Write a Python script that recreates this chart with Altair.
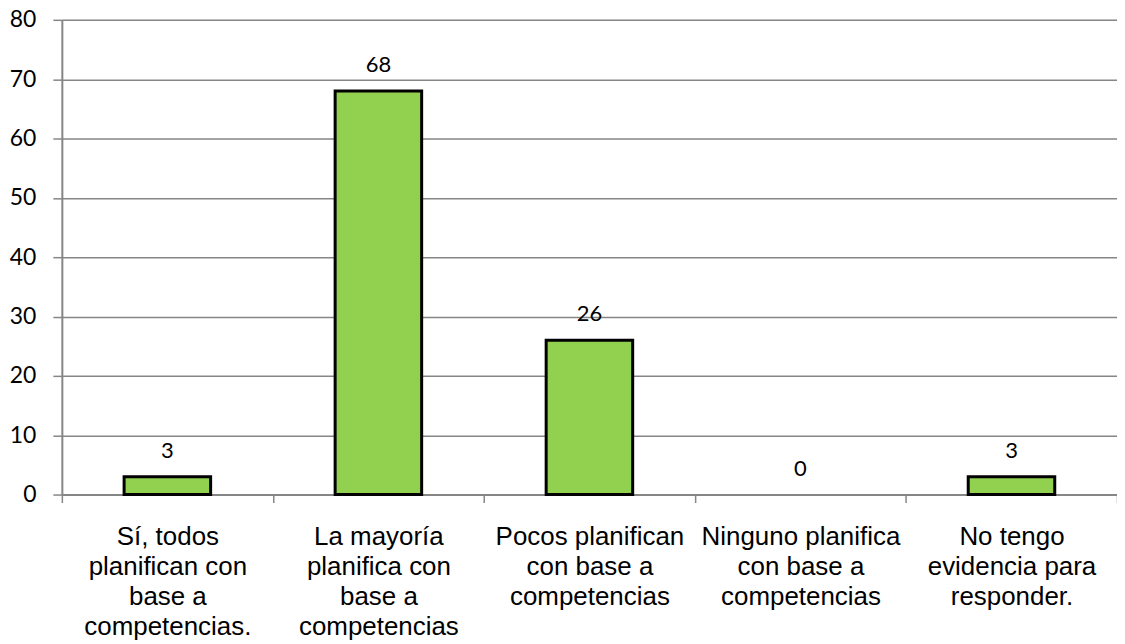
import altair as alt
import pandas as pd

categories = [
    "Sí, todos|planifican con|base a|competencias.",
    "La mayoría|planifica con|base a|competencias",
    "Pocos planifican|con base a|competencias",
    "Ninguno planifica|con base a|competencias",
    "No tengo|evidencia para|responder.",
]
values = [3, 68, 26, 0, 3]
y_ticks = [0, 10, 20, 30, 40, 50, 60, 70, 80]

df = pd.DataFrame({"cat": categories, "val": values})

x = alt.X(
    "cat:N",
    sort=categories,
    scale=alt.Scale(paddingInner=0, paddingOuter=0),
    axis=alt.Axis(
        title=None,
        labelAngle=0,
        labelExpr="split(datum.label, '|')",
        labelFont="Liberation Sans",
        labelFontSize=26,
        labelLineHeight=30,
        labelColor="#000000",
        labelPadding=21,
        labelLimit=0,
        labelOverlap=False,
        labelBaseline="top",
        tickBand="extent",
        tickSize=8,
        tickColor="#868686",
        tickWidth=1.5,
        domainColor="#868686",
        domainWidth=2,
        grid=False,
    ),
)

y = alt.Y(
    "val:Q",
    scale=alt.Scale(domain=[0, 80], nice=False),
    axis=alt.Axis(
        title=None,
        values=y_ticks,
        labelFont="Lato",
        labelFontSize=23,
        labelColor="#000000",
        labelPadding=17,
        tickSize=9,
        tickColor="#868686",
        tickWidth=1.5,
        domainColor="#868686",
        domainWidth=2,
        gridColor="#868686",
        gridWidth=1.5,
    ),
)

bars = alt.Chart(df).transform_filter("datum.val > 0").mark_bar(
    width=alt.RelativeBandSize(0.41),
    color="#92D050",
    stroke="#000000",
    strokeWidth=3,
).encode(x=x, y=y)

labels = alt.Chart(df).mark_text(
    font="Lato",
    fontSize=22,
    color="#000000",
    baseline="alphabetic",
    dy=-19,
).encode(x=x, y=y, text="val:Q")

chart = (
    alt.layer(bars, labels)
    .properties(
        width=1058,
        height=476,
        autosize=alt.AutoSizeParams(type="none"),
        padding={"left": 54, "top": 11, "right": 0, "bottom": 149},
    )
    .configure_view(stroke=None)
    .configure(background="#ffffff")
)

chart.save("out.html", embed_options={"renderer": "svg", "actions": False})
